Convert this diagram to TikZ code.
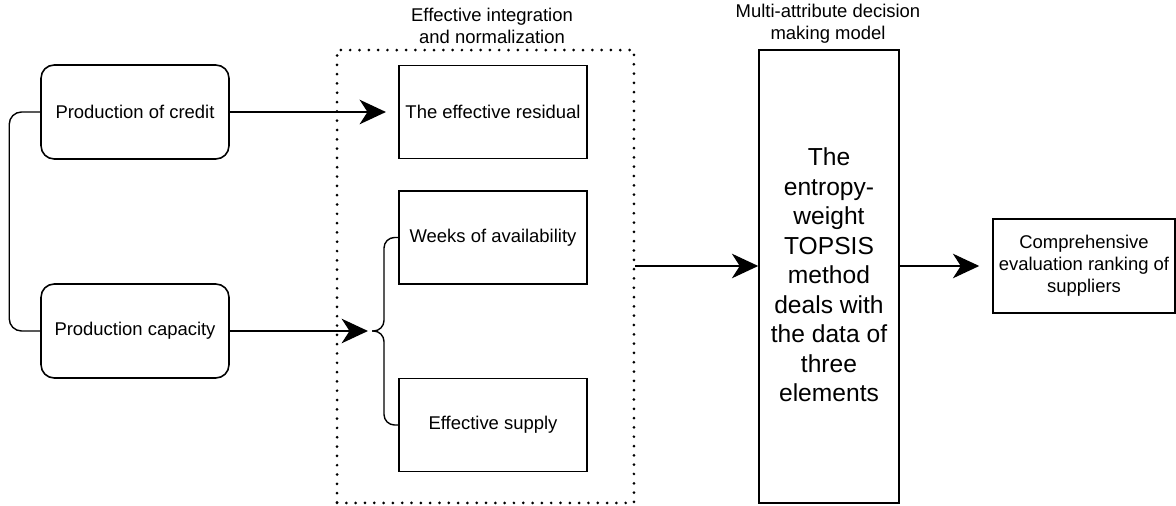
\documentclass[tikz,border=0pt]{standalone}
\usepackage{fontspec}
\setmainfont{Liberation Sans}
\usetikzlibrary{arrows.meta}
\begin{document}
\begin{tikzpicture}[x=0.02cm, y=-0.02cm, font=\fontsize{10.5}{12.4}\selectfont,
    rbox/.style={draw, line width=0.9pt, rounded corners=7.5pt, minimum width=3.76cm, minimum height=1.88cm},
    sbox/.style={draw, line width=0.9pt, minimum width=3.76cm, minimum height=1.86cm},
    link/.style={line width=0.8pt},
    arr/.style={line width=0.8pt, -{Stealth[length=15pt, width=14pt, inset=4.5pt]}}]
    \useasboundingbox (0,0) rectangle (1176,506);
    % inputs
    \node [rbox] (cr) at (135,112) {Production of credit};
    \node [rbox] (cap) at (135,331) {Production capacity};
    \draw [link, rounded corners=7pt] (cr.west) -- ++(-31,0) |- (cap.west);
    % integration and normalization
    \node [draw, line width=1.7pt, dash pattern=on 0pt off 5.3pt, line cap=round, minimum width=5.94cm, minimum height=9.06cm] (dot) at (485.5,276.5) {};
    \node [align=center, font=\fontsize{10.5}{12.5}\selectfont] (dotlbl) at (492,26) {Effective integration\\and normalization};
    \node [sbox] (res) at (493,112) {The effective residual};
    \node [sbox] (wk) at (493,237.5) {Weeks of availability};
    \node [sbox] (sp) at (493,425) {Effective supply};
    \coordinate (btip) at (372,331);
    \draw [arr, shorten >=7pt] (cr.east) -- (res.west);
    \draw [arr, shorten >=2.3pt] (cap.east) -- (btip);
    \draw [link, rounded corners=6pt] (wk.west) -| (384,331) -- (btip);
    \draw [link, rounded corners=6pt] (sp.west) -| (384,331) -- (btip);
    % decision model
    \node [draw, line width=0.9pt, minimum width=2.8cm, minimum height=9.06cm] (top) at (829,276.5) {};
    \node [align=center, font=\fontsize{14}{16.8}\selectfont] (toptxt) at (829,275) {The\\entropy-\\weight\\TOPSIS\\method\\deals with\\the data of\\three\\elements};
    \node [align=center] (toplbl) at (828,24) {Multi-attribute decision\\making model};
    \node [draw, line width=0.9pt, align=center, minimum width=3.64cm, minimum height=1.88cm] (cmp) at (1084,266) {Comprehensive\\evaluation ranking of\\suppliers};
    \draw [arr] (dot.east |- cmp.west) -- (top.west |- cmp.west);
    \draw [arr, shorten >=7.4pt] (top.east |- cmp.west) -- (cmp.west);
\end{tikzpicture}
\end{document}
